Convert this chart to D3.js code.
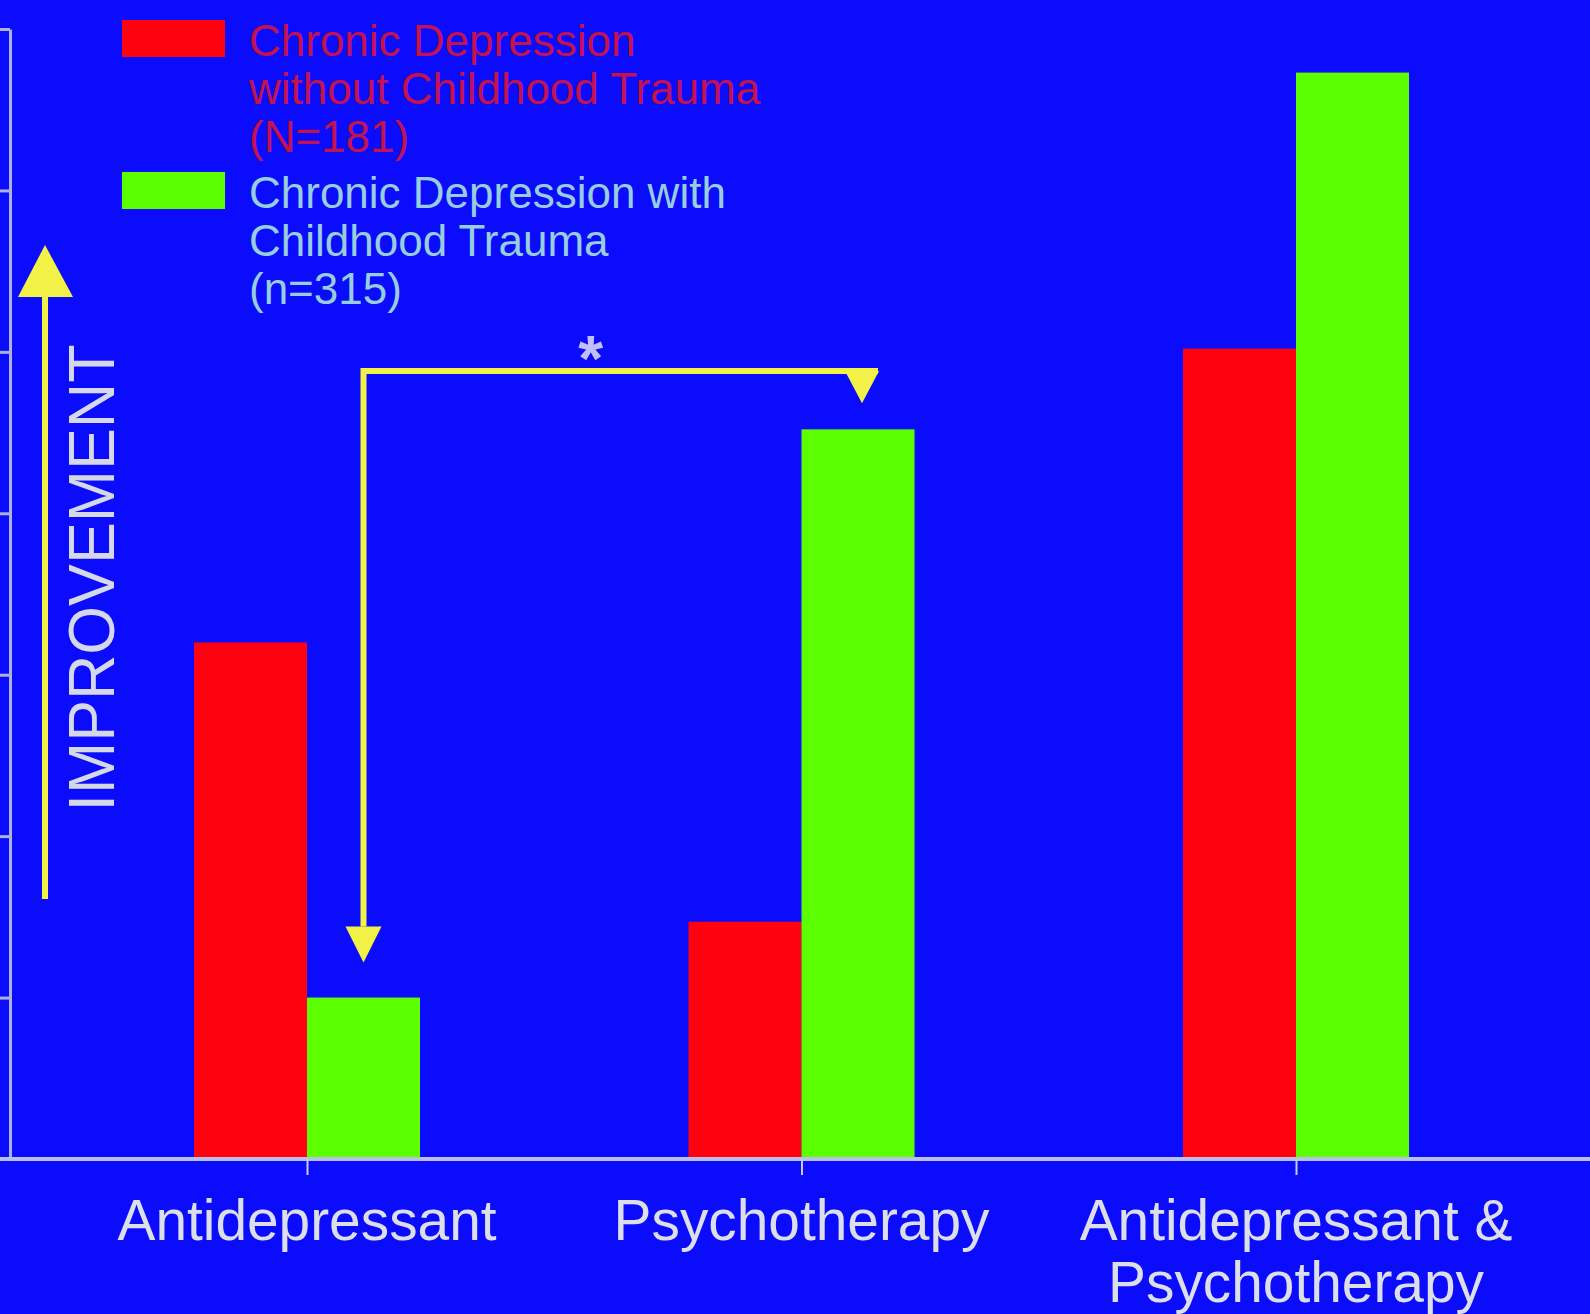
<!DOCTYPE html>
<html>
<head>
<meta charset="utf-8">
<script src="https://cdn.jsdelivr.net/npm/d3@7"></script>
<style>
  html, body { margin: 0; padding: 0; background: #0b0cfb; }
  svg { display: block; }
  text { font-family: "Liberation Sans", Arial, sans-serif; }
</style>
</head>
<body>
<svg id="chart" width="1590" height="1314"></svg>
<script>
// Treatment arms along the x axis, with their (possibly two-line) labels
const categories = ["Antidepressant", "Psychotherapy", "Antidepressant & Psychotherapy"];
const categoryLines = [["Antidepressant"], ["Psychotherapy"], ["Antidepressant &", "Psychotherapy"]];

// Patient groups
const seriesKeys = ["without", "with"];
const seriesLegend = [
  ["Chronic Depression", "without Childhood Trauma", "(N=181)"],
  ["Chronic Depression with", "Childhood Trauma", "(n=315)"]
];

// Improvement per treatment arm (arbitrary units)
const withoutTrauma = [3.2, 1.47, 5.02];
const withTrauma = [1.0, 4.52, 6.73];

// Unlabelled ticks on the vertical axis
const yTicks = [1, 2, 3, 4, 5, 6, 7];

// Significant difference: trauma group, antidepressant vs psychotherapy
const sigFrom = 0, sigTo = 1, sigMark = "*";

const W = 1590, H = 1314;
const colors = { without: "#ff0210", with: "#5cff00" };
const legendText = { without: "#c4124f", with: "#98cce0" };
const yellow = "#f2f246";
const axisColor = "#aab2dc";

const svg = d3.select("#chart");
svg.append("rect").attr("width", W).attr("height", H).attr("fill", "#0b0cfb");

const baseY = 1159, topY = 29;
const y = d3.scaleLinear().domain([0, 7]).range([baseY, topY]);
const x = d3.scalePoint().domain(categories).range([307, 1296]);
const barW = 113;
const xs = d3.scaleBand().domain(seriesKeys).range([-barW, barW]);

const rows = categories.map((c, i) => ({ cat: c, without: withoutTrauma[i], with: withTrauma[i] }));

// Bars
const g = svg.append("g");
rows.forEach(r => {
  seriesKeys.forEach(k => {
    g.append("rect")
      .attr("x", x(r.cat) + xs(k))
      .attr("y", y(r[k]))
      .attr("width", xs.bandwidth())
      .attr("height", y(0) - y(r[k]))
      .attr("fill", colors[k]);
  });
});

// Vertical axis (ticks only)
const yAxis = d3.axisLeft(y).tickValues(yTicks).tickSize(10).tickSizeOuter(0).tickFormat("");
const ya = svg.append("g").attr("transform", "translate(10,0)").call(yAxis);
ya.select(".domain").attr("stroke", axisColor).attr("stroke-width", 3);
ya.selectAll(".tick line").attr("stroke", axisColor).attr("stroke-width", 3);

// Baseline across the full width, with ticks at each treatment arm
svg.append("line").attr("x1", 0).attr("x2", W).attr("y1", baseY).attr("y2", baseY)
  .attr("stroke", "#b8c0ea").attr("stroke-width", 4);
const xAxis = d3.axisBottom(x).tickSize(16).tickSizeOuter(0).tickFormat("");
const xa = svg.append("g").attr("transform", `translate(0,${baseY})`).call(xAxis);
xa.select(".domain").remove();
xa.selectAll(".tick line").attr("stroke", "#c8cce8").attr("stroke-width", 2);

// Category labels, one text element per line
categories.forEach((c, i) => {
  categoryLines[i].forEach((line, j) => {
    svg.append("text")
      .attr("transform", `translate(${x(c)},${1240 + j * 62}) scale(0.98,1)`)
      .attr("text-anchor", "middle")
      .attr("font-size", 58)
      .attr("fill", "#dcdfea")
      .text(line);
  });
});

// Legend
seriesKeys.forEach((k, i) => {
  const ly = 20 + i * 152;
  svg.append("rect").attr("x", 122).attr("y", ly).attr("width", 103).attr("height", 37)
    .attr("fill", colors[k]);
  const t = svg.append("text").attr("x", 249).attr("y", ly + 36)
    .attr("font-size", 44).attr("fill", legendText[k]);
  seriesLegend[i].forEach((line, j) => {
    t.append("tspan").attr("x", 249).attr("dy", j === 0 ? 0 : 48).text(line);
  });
});

// "Improvement" direction arrow
svg.append("line").attr("x1", 45).attr("x2", 45).attr("y1", 899).attr("y2", 290)
  .attr("stroke", yellow).attr("stroke-width", 6);
svg.append("path").attr("d", "M45,245 L18,297 L73,297 Z").attr("fill", yellow);
svg.append("text")
  .attr("transform", "translate(114,578) rotate(-90) scale(0.98,1)")
  .attr("text-anchor", "middle")
  .attr("font-size", 64)
  .attr("fill", "#d4d8ea")
  .text("IMPROVEMENT");

// Significance bracket between the two trauma-group bars
const xL = x(categories[sigFrom]) + xs("with") + xs.bandwidth() / 2;
const xR = x(categories[sigTo]) + xs("with") + xs.bandwidth() / 2 + 4;
const yB = 371;
const tipL = y(withTrauma[sigFrom]) - 35;
const tipR = y(withTrauma[sigTo]) - 26;
svg.append("path")
  .attr("d", `M${xL},${tipL - 36} L${xL},${yB} L${xR + 16},${yB}`)
  .attr("fill", "none").attr("stroke", yellow).attr("stroke-width", 6)
  .attr("stroke-linejoin", "miter");
svg.append("path").attr("d", `M${xL - 18},${tipL - 36} L${xL + 18},${tipL - 36} L${xL},${tipL} Z`)
  .attr("fill", yellow);
svg.append("path").attr("d", `M${xR - 17},${yB} L${xR + 17},${yB} L${xR},${tipR} Z`)
  .attr("fill", yellow);
svg.append("text")
  .attr("x", (xL + xR) / 2 - 22).attr("y", yB + 10)
  .attr("text-anchor", "middle")
  .attr("font-size", 64)
  .attr("font-weight", "bold")
  .attr("fill", "#c0c0ff")
  .text(sigMark);
</script>
</body>
</html>
